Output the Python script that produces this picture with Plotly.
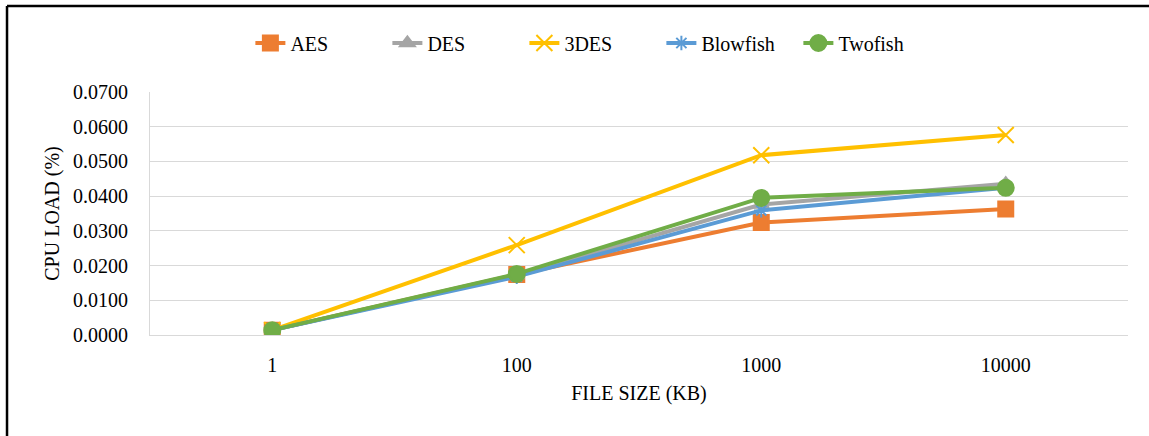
import plotly.graph_objects as go

categories = ["1", "100", "1000", "10000"]
aes = [0.0014, 0.0174, 0.0324, 0.0363]
des = [0.0014, 0.0172, 0.0376, 0.0436]
des3 = [0.0014, 0.0259, 0.0518, 0.0576]
blowfish = [0.0014, 0.0168, 0.0359, 0.0424]
twofish = [0.0014, 0.0176, 0.0395, 0.0424]

series = [
    ("AES", aes, "#ED7D31", "square", 15),
    ("DES", des, "#A5A5A5", "triangle-up", 13),
    ("3DES", des3, "#FFC000", "x-thin-open", 16),
    ("Blowfish", blowfish, "#5B9BD5", "asterisk-open", 12),
    ("Twofish", twofish, "#70AD47", "circle", 16),
]

fig = go.Figure()
for name, vals, col, sym, sz in series:
    fig.add_trace(go.Scatter(
        x=categories, y=vals, name=name, mode="lines+markers",
        line=dict(color=col, width=4),
        marker=dict(symbol=sym, size=sz, color=col,
                    line=dict(color=col, width=2)),
    ))

font = "Liberation Serif, Times New Roman, serif"
fs = 20
fig.update_layout(
    width=1149, height=436,
    margin=dict(l=150, r=21, t=92, b=101, autoexpand=False),
    paper_bgcolor="white", plot_bgcolor="white",
    font=dict(family=font, size=fs, color="black"),
    showlegend=True,
    legend=dict(orientation="h", x=0.516, xanchor="center", xref="container",
                y=1 - 43 / 436, yanchor="middle", yref="container",
                bgcolor="rgba(0,0,0,0)", entrywidth=92, entrywidthmode="pixels",
                font=dict(family=font, size=fs), tracegroupgap=0),
    xaxis=dict(type="category", range=[-0.5, 3.5], showgrid=False, showline=True,
               linecolor="#D9D9D9", linewidth=1, ticks="", ticklabelstandoff=12,
               tickfont=dict(family=font, size=fs),
               title=dict(text="FILE SIZE (KB)", font=dict(family=font, size=fs), standoff=10)),
    yaxis=dict(range=[0, 0.07], dtick=0.01, tickformat=".4f", showgrid=True,
               gridcolor="#D9D9D9", gridwidth=1, showline=True, linecolor="#D9D9D9",
               zeroline=False, ticks="", ticklabelstandoff=17,
               tickfont=dict(family=font, size=fs),
               title=dict(text="CPU LOAD (%)", font=dict(family=font, size=fs), standoff=8)),
    shapes=[
        dict(type="line", xref="paper", yref="paper", x0=-0.1462, x1=1.05,
             y0=1.354, y1=1.354, line=dict(color="black", width=2.5)),
        dict(type="line", xref="paper", yref="paper", x0=-0.1462, x1=-0.1462,
             y0=1.354, y1=-0.45, line=dict(color="black", width=2.5)),
    ],
)

fig.write_html("out.html")
